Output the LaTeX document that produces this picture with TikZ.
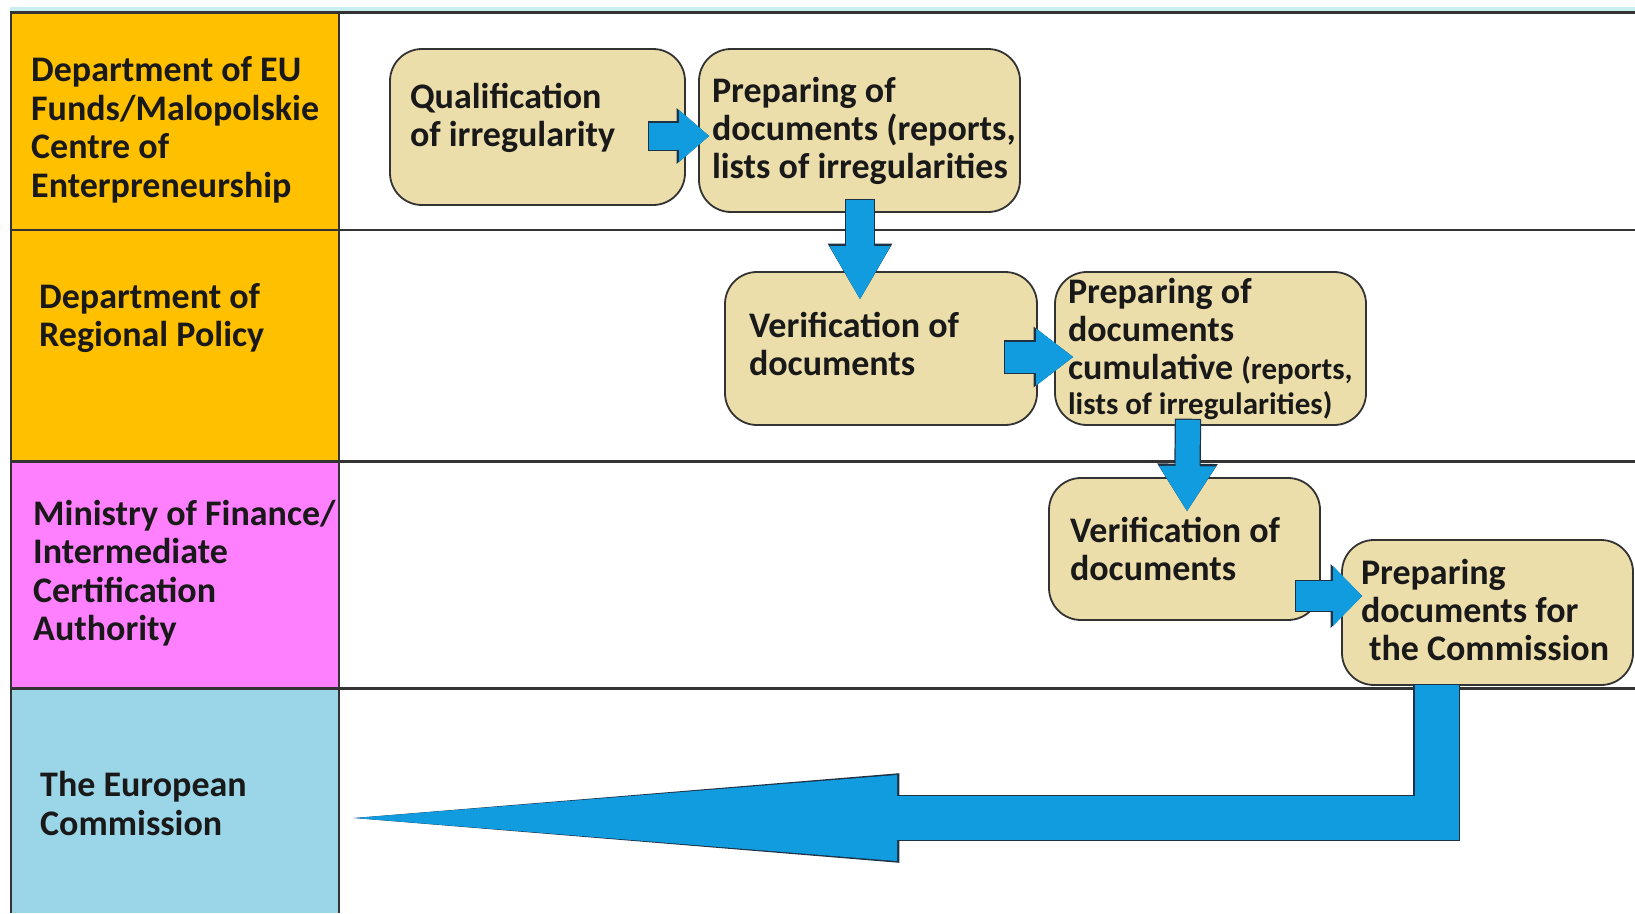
\documentclass[tikz,border=0pt]{standalone}
\usepackage{fontspec}
\setmainfont{Carlito}
\usetikzlibrary{arrows.meta}

\definecolor{lanegold}{RGB}{255,192,0}
\definecolor{lanepink}{RGB}{255,128,255}
\definecolor{laneblue}{RGB}{155,213,232}
\definecolor{topstrip}{RGB}{200,238,240}
\definecolor{taskfill}{RGB}{236,222,170}
\definecolor{flowblue}{RGB}{16,156,222}
\definecolor{flowedge}{RGB}{30,50,70}

\hyphenpenalty=10000
\exhyphenpenalty=10000
\newcommand{\lanefont}{\fontsize{36}{38.5}\selectfont\bfseries}
\newcommand{\taskfont}{\fontsize{36}{38}\selectfont\bfseries}
\newcommand{\smallpart}{\fontsize{31}{38}\selectfont}

\tikzstyle{lanetext} = [anchor=west, align=flush left, inner sep=0pt, font=\lanefont, text=black!90]
\tikzstyle{laneline} = [draw=black!80, line width=2.2pt]
\tikzstyle{task} = [rectangle, rounded corners=32pt, draw=black!80, line width=1.8pt, fill=taskfill, align=flush left, inner ysep=0pt, font=\taskfont, text=black!90]
% block arrow: shaft width, head width, head length
\tikzset{
  flow/.style n args={3}{
    preaction={draw=flowedge, line width=#1+2.4pt, shorten <=-1.2pt, line join=miter,
      -{Triangle[length=#3+2.4pt, width=#2+3.6pt, line width=0pt]}},
    draw=flowblue, line width=#1, line join=miter,
    -{Triangle[length=#3, width=#2, line width=0pt]}
  }
}

\begin{document}
\begin{tikzpicture}[x=1pt, y=-1pt]
  \useasboundingbox (0,0) rectangle (1635,913);

  % swimlane headers
  \fill[topstrip] (10,7) rectangle (1635,12);
  \fill[lanegold] (10,12.5) rectangle (339,461.5);
  \fill[lanepink] (10,461.5) rectangle (339,688.5);
  \fill[laneblue] (10,688.5) rectangle (339,913);
  \draw[laneline, line width=3pt] (10,12.5) -- (1635,12.5);
  \draw[laneline] (10,230) -- (1635,230);
  \draw[laneline] (10,461.5) -- (1635,461.5);
  \draw[laneline] (10,688.5) -- (1635,688.5);
  \draw[laneline] (339,12.5) -- (339,913);
  \draw[laneline, line width=1.2pt] (11,12.5) -- (11,913);

  \node (euf) [lanetext] at (31,130) {Department of EU\\Funds/Malopolskie\\Centre of\\Enterpreneurship};
  \node (drp) [lanetext] at (39,318) {Department of\\Regional Policy};
  \node (mof) [lanetext] at (33,573) {Ministry of Finance/\\Intermediate\\Certification\\Authority};
  \node (ec) [lanetext] at (40,803.5) {The European\\Commission};
  \coordinate (ecin) at (354,818);

  % process steps (trailing space lifts the text a little)
  \node (qual) [task, minimum width=295pt, minimum height=156pt, text width=255pt, inner xsep=20pt] at (537.5,127) {Qualification\\of irregularity\par\vspace*{19pt}};
  \node (prep) [task, minimum width=321pt, minimum height=163pt, text width=295pt, inner xsep=13pt] at (859.5,130.5) {Preparing of\\\mbox{documents (reports,}\\\mbox{lists of irregularities}};
  \node (verr) [task, minimum width=312pt, minimum height=153pt, text width=264pt, inner xsep=24pt] at (881,348.5) {Verification of\\documents\par\vspace*{10pt}};
  \node (cumu) [task, minimum width=311pt, minimum height=153pt, text width=285pt, inner xsep=13pt] at (1210.5,348.5) {Preparing of\\documents\\\mbox{cumulative {\smallpart (reports,}}\\[-3pt]\mbox{\smallpart lists of irregularities)}};
  \node (verm) [task, minimum width=271pt, minimum height=142pt, text width=229pt, inner xsep=21pt] at (1184.5,549) {Verification of\\documents};
  \node (prepc) [task, minimum width=291pt, minimum height=145pt, text width=253pt, inner xsep=19pt] at (1487.5,612.5) {Preparing\\documents for\\\hspace*{8pt}the Commission\par\vspace*{6pt}};

  % flow between steps
  \draw[flow={27pt}{52pt}{30pt}] ([shift={(-37,9)}]qual.east) -- ([shift={(11,5.5)}]prep.west);
  \draw[flow={28pt}{61pt}{53pt}] ([shift={(0.5,-13)}]prep.south) -- ([shift={(-21,28)}]verr.north);
  \draw[flow={31pt}{57pt}{37pt}] ([shift={(-33,8.5)}]verr.east) -- ([shift={(19,8.5)}]cumu.west);
  \draw[flow={24pt}{57pt}{45pt}] ([shift={(-22.5,-6)}]cumu.south) -- ([shift={(2.5,34)}]verm.north);
  \draw[flow={30pt}{60pt}{29pt}] ([shift={(-25,47)}]verm.east) -- ([shift={(21,-16.5)}]prepc.west);
  \draw[flow={44pt}{86pt}{543pt}] ([shift={(-51,-1)}]prepc.south) |- (ecin);
\end{tikzpicture}
\end{document}
